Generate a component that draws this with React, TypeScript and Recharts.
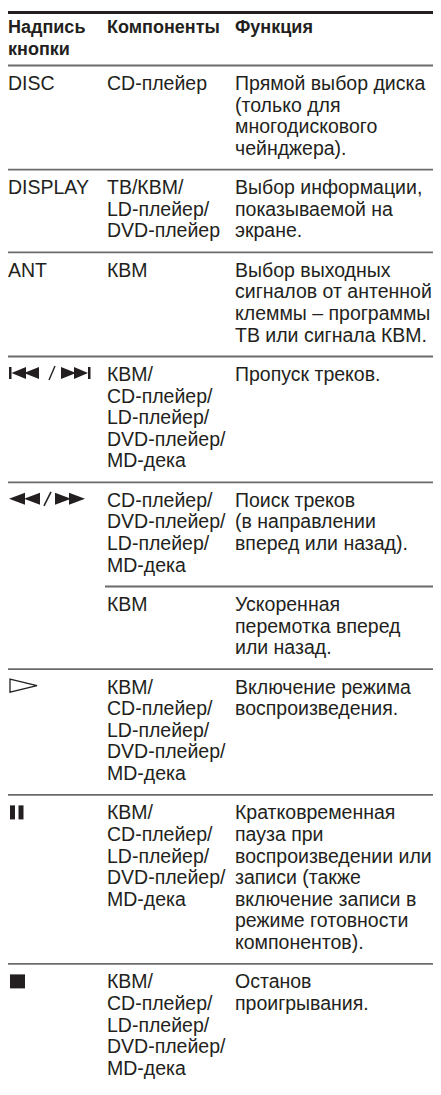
import React from "react";
import { ScatterChart, Scatter, XAxis, YAxis, ReferenceLine } from "recharts";

// table content, one entry per row
const headers = [["Надпись", "кнопки"], ["Компоненты"], ["Функция"]];

const buttons = ["DISC", "DISPLAY", "ANT", "prevnext", "rewff", "", "play", "pause", "stop"];

// rows whose button cell is shared with the row above
const continued = [false, false, false, false, false, true, false, false, false];

const components = [
    ["CD-плейер"],
    ["ТВ/КВМ/", "LD-плейер/", "DVD-плейер"],
    ["КВМ"],
    ["КВМ/", "CD-плейер/", "LD-плейер/", "DVD-плейер/", "MD-дека"],
    ["CD-плейер/", "DVD-плейер/", "LD-плейер/", "MD-дека"],
    ["КВМ"],
    ["КВМ/", "CD-плейер/", "LD-плейер/", "DVD-плейер/", "MD-дека"],
    ["КВМ/", "CD-плейер/", "LD-плейер/", "DVD-плейер/", "MD-дека"],
    ["КВМ/", "CD-плейер/", "LD-плейер/", "DVD-плейер/", "MD-дека"],
];

const functions = [
    ["Прямой выбор диска", "(только для", "многодискового", "чейнджера)."],
    ["Выбор информации,", "показываемой на", "экране."],
    ["Выбор выходных", "сигналов от антенной", "клеммы – программы", "ТВ или сигнала КВМ."],
    ["Пропуск треков."],
    ["Поиск треков", "(в направлении", "вперед или назад)."],
    ["Ускоренная", "перемотка вперед", "или назад."],
    ["Включение режима", "воспроизведения."],
    [
        "Кратковременная",
        "пауза при",
        "воспроизведении или",
        "записи (также",
        "включение записи в",
        "режиме готовности",
        "компонентов).",
    ],
    ["Останов", "проигрывания."],
];

// layout
const W = 433;
const H = 1087;
const COLS = [0, 99, 227];
const LINE = 21.6;
const PAD = 17.8;
const BASE = 24.5;
const HEAD_BASE = 20.8;
const TOP_RULE = 4.5;
const HEADER_BOTTOM = 57.5;
const INK = "#231f20";
const FONT = "'Liberation Sans', Arial, Helvetica, sans-serif";

const rowLines = components.map((c, i) => Math.max(c.length, functions[i].length, 1));
const rowTops: number[] = [HEADER_BOTTOM];
rowLines.forEach((n, i) => rowTops.push(rowTops[i] + n * LINE + PAD));

const cells: any[] = [];
headers.forEach((lines, c) => cells.push({ x: COLS[c], y: TOP_RULE, lines, kind: "head" }));
buttons.forEach((b, i) => {
    const y = rowTops[i];
    if (b === "") {
        // merged with the row above
    } else if (["prevnext", "rewff", "play", "pause", "stop"].includes(b)) {
        cells.push({ x: COLS[0], y, lines: [], kind: b });
    } else {
        cells.push({ x: COLS[0], y, lines: [b], kind: "text" });
    }
    cells.push({ x: COLS[1], y, lines: components[i], kind: "text" });
    cells.push({ x: COLS[2], y, lines: functions[i], kind: "text" });
});

const tri = (pts: number[][]) => pts.map((p) => p.join(",")).join(" ");

const Glyph = ({ kind, x, b }: { kind: string; x: number; b: number }) => {
    const t = b - 14;
    const m = b - 8;
    const d = b - 2;
    if (kind === "rewff") {
        return (
            <g fill={INK}>
                <polygon points={tri([[x + 17, t], [x + 17, d], [x + 1, m]])} />
                <polygon points={tri([[x + 32, t], [x + 32, d], [x + 16, m]])} />
                <line x1={x + 36} y1={b - 1} x2={x + 43} y2={b - 15} stroke={INK} strokeWidth={1.6} />
                <polygon points={tri([[x + 47, t], [x + 47, d], [x + 63, m]])} />
                <polygon points={tri([[x + 61, t], [x + 61, d], [x + 77, m]])} />
            </g>
        );
    }
    if (kind === "prevnext") {
        return (
            <g fill={INK}>
                <rect x={x + 1} y={t} width={2.5} height={12} />
                <polygon points={tri([[x + 18, t], [x + 18, d], [x + 3.5, m]])} />
                <polygon points={tri([[x + 31, t], [x + 31, d], [x + 16, m]])} />
                <line x1={x + 41} y1={b - 1} x2={x + 47} y2={b - 15} stroke={INK} strokeWidth={1.4} />
                <polygon points={tri([[x + 53, t], [x + 53, d], [x + 68, m]])} />
                <polygon points={tri([[x + 66, t], [x + 66, d], [x + 80, m]])} />
                <rect x={x + 80} y={t} width={2.5} height={12} />
            </g>
        );
    }
    if (kind === "play") {
        return (
            <polygon
                points={tri([[x + 2, b - 14.5], [x + 29, b - 8], [x + 2, b - 1.5]])}
                fill="none"
                stroke={INK}
                strokeWidth={1.3}
            />
        );
    }
    if (kind === "pause") {
        return (
            <g fill={INK}>
                <rect x={x + 2} y={b - 14} width={5} height={14} />
                <rect x={x + 10.5} y={b - 14} width={5} height={14} />
            </g>
        );
    }
    return <rect x={x + 2} y={b - 14} width={15} height={14} fill={INK} />;
};

const Cell = (props: any) => {
    const { cx, cy, payload } = props;
    const head = payload.kind === "head";
    const b = cy + (head ? HEAD_BASE : BASE);
    if (head || payload.kind === "text") {
        return (
            <text
                x={cx}
                y={b}
                fill={INK}
                fontFamily={FONT}
                fontSize={head ? 18 : 19.5}
                fontWeight={head ? "bold" : "normal"}
            >
                {payload.lines.map((s: string, i: number) => (
                    <tspan key={i} x={cx} y={b + i * LINE}>
                        {s}
                    </tspan>
                ))}
            </text>
        );
    }
    return <Glyph kind={payload.kind} x={cx} b={b} />;
};

const App: React.FC = () => {
    return (
        <ScatterChart width={W} height={H} margin={{ top: 0, right: 0, bottom: 0, left: 0 }}>
            <XAxis type="number" dataKey="x" domain={[0, W]} hide />
            <YAxis type="number" dataKey="y" domain={[0, H]} reversed hide />
            <ReferenceLine y={TOP_RULE} stroke={INK} strokeWidth={3} />
            <ReferenceLine y={HEADER_BOTTOM} stroke="#6b6b6b" strokeWidth={1.8} />
            {rowTops.slice(1, buttons.length).map((y, i) =>
                continued[i + 1] ? (
                    <ReferenceLine
                        key={i}
                        segment={[
                            { x: COLS[1] - 2, y },
                            { x: W, y },
                        ]}
                        stroke="#6b6b6b"
                        strokeWidth={1.8}
                    />
                ) : (
                    <ReferenceLine key={i} y={y} stroke="#6b6b6b" strokeWidth={1.8} />
                )
            )}
            <Scatter data={cells} shape={Cell} isAnimationActive={false} />
        </ScatterChart>
    );
};

export default App;
